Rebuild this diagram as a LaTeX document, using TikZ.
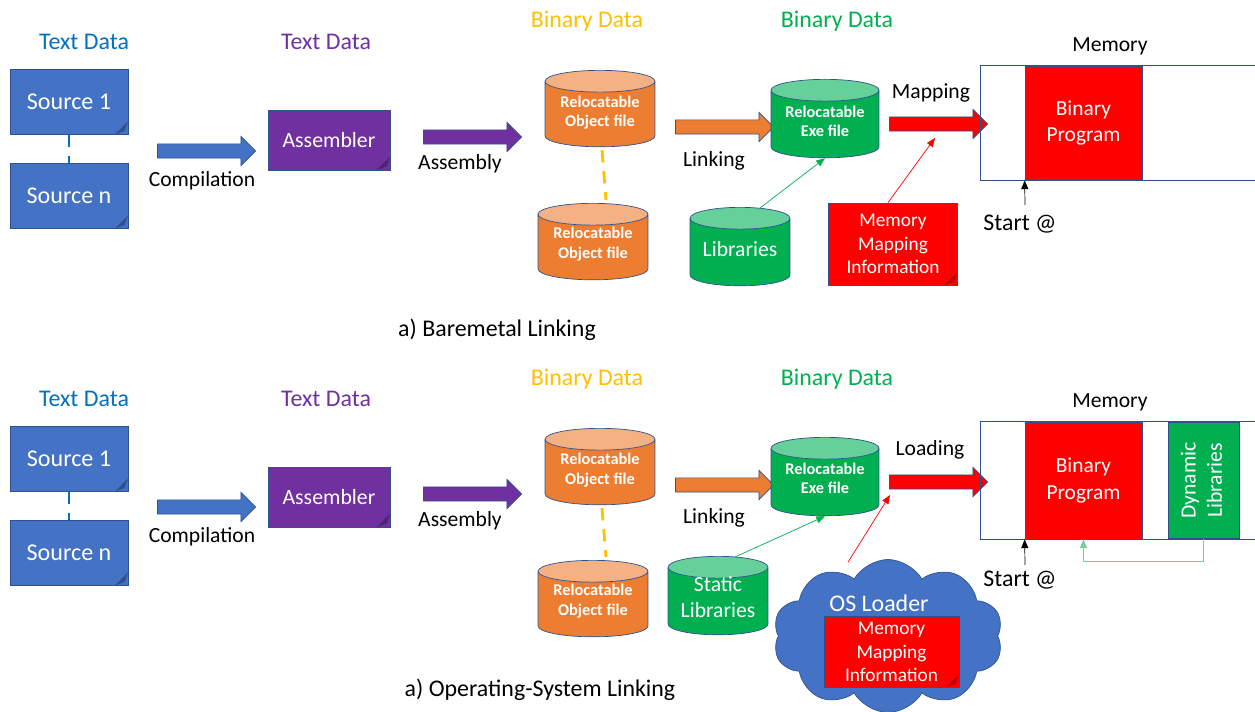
\documentclass[tikz,border=0pt]{standalone}
\usepackage{fontspec}
\setmainfont{Carlito}
\usepackage{graphicx}
\usepackage{tikz}
\usetikzlibrary{positioning, shapes.geometric, shapes.symbols, shapes.arrows, arrows.meta}
\usepackage{xcolor}
\definecolor{srcblue}{HTML}{4472C4}
\definecolor{edgeblue}{HTML}{2F528F}
\definecolor{txtblue}{HTML}{0070C0}
\definecolor{asmpurple}{HTML}{7030A0}
\definecolor{objorange}{HTML}{ED7D31}
\definecolor{objtop}{HTML}{F4B183}
\definecolor{binyellow}{HTML}{FFC000}
\definecolor{exegreen}{HTML}{00B050}
\definecolor{exetop}{HTML}{66D09A}
\definecolor{memred}{HTML}{FF0000}
\definecolor{dynline}{HTML}{6FD394}

\tikzset{
  lbl/.style={font=\fontsize{13.6}{16}\selectfont},
  txt/.style={font=\fontsize{12.3}{15}\selectfont},
  fold/.style={path picture={\fill[#1]
      ([shift={(-0.26cm,0cm)}]path picture bounding box.south east) --
      ([shift={(0cm,0.26cm)}]path picture bounding box.south east) --
      ([shift={(-0.07cm,0.07cm)}]path picture bounding box.south east) -- cycle;}},
  srcbox/.style={rectangle, fill=srcblue, draw=edgeblue, text=white,
      minimum width=2.36cm, minimum height=1.3cm,
      font=\fontsize{13.7}{16}\selectfont, fold=edgeblue},
  asmbox/.style={rectangle, fill=asmpurple, draw=edgeblue, text=white,
      minimum width=2.44cm, minimum height=1.2cm,
      font=\fontsize{12.4}{15}\selectfont, fold=asmpurple!70!black},
  mapbox/.style={rectangle, fill=memred, draw=edgeblue, text=white, align=center,
      minimum width=2.58cm, minimum height=1.64cm,
      font=\fontsize{11}{13.3}\selectfont, fold=memred!70!black},
  progbox/.style={rectangle, fill=memred, draw=edgeblue, text=white, align=center,
      minimum width=2.34cm, minimum height=2.28cm,
      font=\fontsize{12.2}{15.3}\selectfont},
  bigarrow/.style={single arrow, draw=edgeblue, inner xsep=0pt, inner ysep=0.135cm,
      minimum height=1.96cm, single arrow head extend=0.15cm},
  objcyl/.style={cylinder, shape border rotate=90, inner sep=5pt, aspect=1.24, draw=edgeblue,
      cylinder uses custom fill, cylinder body fill=objorange, cylinder end fill=objtop,
      minimum width=2.2cm, minimum height=1.53cm, anchor=north},
  execyl/.style={objcyl, cylinder body fill=exegreen, cylinder end fill=exetop,
      minimum width=2.16cm, minimum height=1.57cm},
  libcyl/.style={execyl, minimum width=2cm},
  cyltxt/.style={text=white, align=center, font=\bfseries\fontsize{9.3}{11}\selectfont},
  libtxt/.style={text=white, align=center, font=\fontsize{12.3}{14.5}\selectfont},
  thinarr/.style={-{Triangle[length=5pt,width=4pt]}, line width=0.4pt},
}

\begin{document}
\begin{tikzpicture}[x=0.02cm, y=-0.02cm]
  \useasboundingbox (0,0) rectangle (1255,712);

  % a) baremetal
  \node[lbl, text=txtblue] (td1) at (84,42) {Text Data};
  \node[srcbox] (s1) at (69,102) {Source 1};
  \node[srcbox] (sn) at (69,196) {Source n};
  \draw[txtblue, line width=1.6pt, dash pattern=on 7pt off 5pt] (s1.south) -- (sn.north);
  \node[bigarrow, fill=srcblue] (comp1) at (203,151) {};
  \node[txt] (comp1l) at (202,181) {Compilation};

  \node[lbl, text=asmpurple] (td2) at (326,42) {Text Data};
  \node[asmbox] (asm1) at (329,140) {Assembler};
  \node[bigarrow, fill=asmpurple] (asy1) at (469,137) {};
  \node[txt] (asy1l) at (460,164) {Assembly};

  \node[lbl, text=binyellow] (bd1) at (587,21) {Binary Data};
  \node[objcyl] (o1) at (600,70) {};
  \node[cyltxt] (o1t) at (600,112.5) {Relocatable\\Object file};
  \node[objcyl] (o2) at (593,203) {};
  \node[cyltxt] (o2t) at (593,244) {Relocatable\\Object file};
  \draw[binyellow, line width=1.6pt, dash pattern=on 7pt off 5pt]
    ([shift={(2,3)}]o1.south) -- ([shift={(13,-3)}]o2.north);
  \node[bigarrow, fill=objorange] (lnk1) at (721,127) {};
  \node[txt] (lnk1l) at (714,161) {Linking};

  \node[lbl, text=exegreen] (bd2) at (837,21) {Binary Data};
  \node[execyl] (e1) at (825,79) {};
  \node[cyltxt] (e1t) at (825,121) {Relocatable\\Exe file};
  \node[libcyl] (lib1) at (740,207) {};
  \node[libtxt] (lib1t) at (740,249) {Libraries};
  \draw[thinarr, exegreen] ([shift={(20,1)}]lib1.north) -- (e1.south);

  \node[bigarrow, fill=memred] (map1) at (935,124) {};
  \node[txt] (map1l) at (931,93) {Mapping};
  \coordinate (map1in) at (935,138);
  \node[mapbox] (mmi1) at (893,244) {Memory\\Mapping\\Information};
  \draw[thinarr, memred] ([shift={(-5,0)}]mmi1.north) -- (map1in);

  \node[txt] (memt1) at (1110,46) {Memory};
  \node[minimum width=5.48cm, minimum height=2.28cm] (mem1) at (1118,123) {};
  \draw[edgeblue] (mem1.north east) -- (mem1.north west) -- (mem1.south west) -- (mem1.south east);
  \node[progbox] (bp1) at (1083.5,123) {Binary\\Program};
  \coordinate (st1) at (1025,205);
  \draw[thinarr] (st1) -- (bp1.south west);
  \node[lbl] (st1l) at (1020,224) {Start @};
  \node[lbl] (cap1) at (497,330) {a) Baremetal Linking};

  % a) operating system
  \node[lbl, text=txtblue] (td3) at (84,399) {Text Data};
  \node[srcbox] (s2) at (69,459) {Source 1};
  \node[srcbox] (sn2) at (69,553) {Source n};
  \draw[txtblue, line width=1.6pt, dash pattern=on 7pt off 5pt] (s2.south) -- (sn2.north);
  \node[bigarrow, fill=srcblue] (comp2) at (203,507) {};
  \node[txt] (comp2l) at (202,537) {Compilation};

  \node[lbl, text=asmpurple] (td4) at (326,399) {Text Data};
  \node[asmbox] (asm2) at (329,497) {Assembler};
  \node[bigarrow, fill=asmpurple] (asy2) at (469,494) {};
  \node[txt] (asy2l) at (460,521) {Assembly};

  \node[lbl, text=binyellow] (bd3) at (587,379) {Binary Data};
  \node[objcyl] (o3) at (600,428) {};
  \node[cyltxt] (o3t) at (600,470) {Relocatable\\Object file};
  \node[objcyl] (o4) at (593,560) {};
  \node[cyltxt] (o4t) at (593,601) {Relocatable\\Object file};
  \draw[binyellow, line width=1.6pt, dash pattern=on 7pt off 5pt]
    ([shift={(2,3)}]o3.south) -- ([shift={(13,-3)}]o4.north);
  \node[bigarrow, fill=objorange] (lnk2) at (721,485) {};
  \node[txt] (lnk2l) at (714,518) {Linking};

  \node[lbl, text=exegreen] (bd4) at (837,379) {Binary Data};
  \node[execyl] (e2) at (825,437) {};
  \node[cyltxt] (e2t) at (825,478) {Relocatable\\Exe file};
  \node[libcyl] (slib) at (718,556) {};
  \node[libtxt] (slibt) at (718,597) {Static\\Libraries};
  \draw[thinarr, exegreen] ([shift={(17,1)}]slib.north) -- (e2.south);

  \node[bigarrow, fill=memred] (load2) at (935,482) {};
  \node[txt] (load2l) at (930,450) {Loading};
  \coordinate (load2in) at (890,495);
  \node[cloud, cloud puffs=10, cloud puff arc=120, aspect=1.5, fill=srcblue, draw=edgeblue,
        minimum width=4.6cm, minimum height=3.06cm] (osl) at (888,636) {};
  \node[lbl, text=white] (osll) at (879,603) {OS Loader};
  \node[mapbox, minimum width=2.7cm, minimum height=1.4cm] (mmi2) at (891.5,652) {Memory\\Mapping\\Information};
  \draw[thinarr, memred] ([shift={(-40,3)}]osl.north) -- (load2in);

  \node[txt] (memt2) at (1110,402) {Memory};
  \node[minimum width=5.48cm, minimum height=2.34cm] (mem2) at (1118,480.5) {};
  \draw[edgeblue] (mem2.north east) -- (mem2.north west) -- (mem2.south west) -- (mem2.south east);
  \node[progbox, minimum height=2.34cm] (bp2) at (1083.5,480.5) {Binary\\Program};
  \node[rectangle, fill=exegreen, draw=edgeblue, text=white, minimum width=1.42cm,
        minimum height=2.32cm, font=\fontsize{12.3}{15}\selectfont] (dyn) at (1203.5,480.5)
        {\rotatebox{90}{\begin{tabular}{@{}c@{}}Dynamic\\Libraries\end{tabular}}};
  \draw[thinarr, dynline] (dyn.south) -- ++(0,23) -| (bp2.south);
  \coordinate (st2) at (1025,565);
  \draw[thinarr] (st2) -- (bp2.south west);
  \node[lbl] (st2l) at (1020,580) {Start @};
  \node[lbl] (cap2) at (540,690) {a) Operating-System Linking};
\end{tikzpicture}
\end{document}
